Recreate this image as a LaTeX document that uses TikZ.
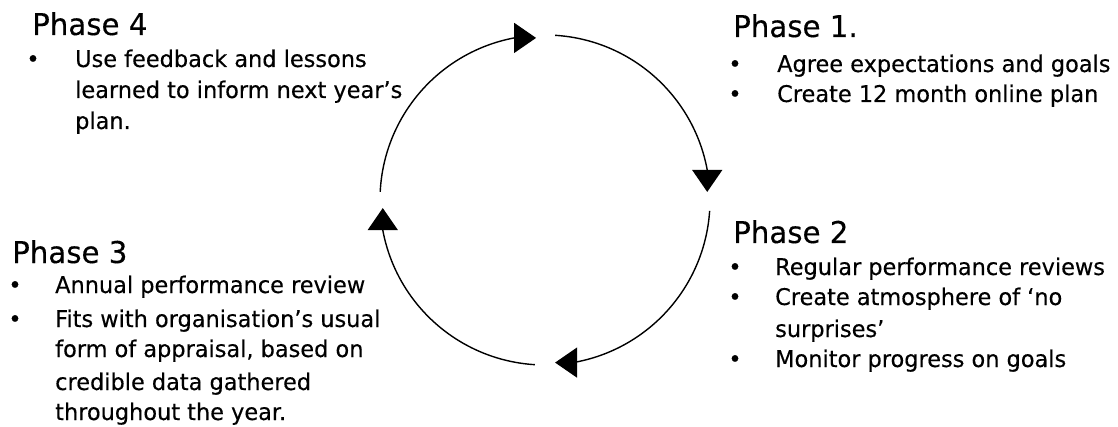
\documentclass[tikz,border=0pt]{standalone}
\usepackage{fontspec}
\setmainfont{DejaVu Sans}[FakeStretch=0.975,FakeBold=0.3]
\usetikzlibrary{arrows.meta}
\begin{document}
\begin{tikzpicture}[x=1pt,y=1pt,
  cyc/.style={line width=1.4pt,-{Triangle[length=22pt,width=30pt]}},
  head/.style={anchor=base west,inner sep=0pt,font=\fontsize{30}{30}\selectfont},
  line/.style={anchor=base west,inner sep=0pt,font=\fontsize{23}{23}\selectfont},
  bul/.style={anchor=base,inner sep=0pt,font=\fontsize{23}{23}\selectfont}]
\useasboundingbox (0,0) rectangle (1118,426);
\coordinate (C) at (545,226);
\def\R{165}
% cycle arcs, each ending in an axis-aligned arrowhead
\draw[cyc] ([shift={(86.5:\R)}]C) arc[start angle=86.5,end angle=10.5,radius=\R] -- ++(0,-22);
\draw[cyc] ([shift={(-3.8:\R)}]C) arc[start angle=-3.8,end angle=-80.2,radius=\R] -- ++(-18,0);
\draw[cyc] ([shift={(-93.5:\R)}]C) arc[start angle=-93.5,end angle=-169.5,radius=\R] -- ++(0,22);
\draw[cyc] ([shift={(177.2:\R)}]C) arc[start angle=177.2,end angle=100.8,radius=\R] -- ++(22,0);
% Phase 4
\node[head] (h4) at (32,391) {Phase 4};
\node[bul] (b41) at (33,359) {•};
\node[line] (t41) at (75,359) {Use feedback and lessons};
\node[line] (t42) at (75,328) {learned to inform next year’s};
\node[line] (t43) at (75,297) {plan.};
% Phase 1
\node[head] (h1) at (733,389) {Phase 1.};
\node[bul] (b11) at (735,354) {•};
\node[line] (t11) at (777,354) {Agree expectations and goals};
\node[bul] (b12) at (735,324) {•};
\node[line] (t12) at (777,324) {Create 12 month online plan};
% Phase 2
\node[head] (h2) at (733,183) {Phase 2};
\node[bul] (b21) at (735,151) {•};
\node[line] (t21) at (775,151) {Regular performance reviews};
\node[bul] (b22) at (735,121) {•};
\node[line] (t22) at (775,121) {Create atmosphere of ‘no};
\node[line] (t23) at (775,89) {surprises’};
\node[bul] (b23) at (735,59) {•};
\node[line] (t24) at (775,59) {Monitor progress on goals};
% Phase 3
\node[head] (h3) at (12,163) {Phase 3};
\node[bul] (b31) at (15,133) {•};
\node[line] (t31) at (55,133) {Annual performance review};
\node[bul] (b32) at (15,99) {•};
\node[line] (t32) at (55,99) {Fits with organisation’s usual};
\node[line] (t33) at (55,69) {form of appraisal, based on};
\node[line] (t34) at (55,36) {credible data gathered};
\node[line] (t35) at (55,6) {throughout the year.};
\end{tikzpicture}
\end{document}
